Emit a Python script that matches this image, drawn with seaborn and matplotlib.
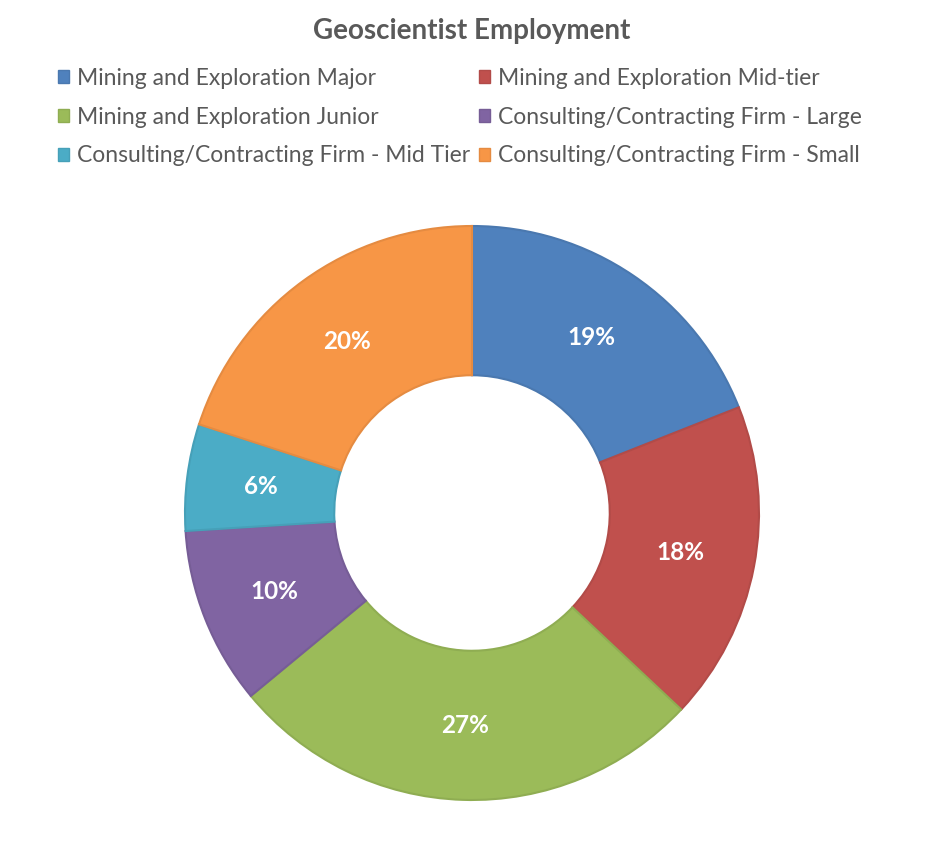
import matplotlib
matplotlib.use('Agg')
import matplotlib.pyplot as plt
import seaborn as sns
import numpy as np
from matplotlib.patches import Patch

# --- data ---
categories = ['Mining and Exploration Major', 'Mining and Exploration Mid-tier',
              'Mining and Exploration Junior', 'Consulting/Contracting Firm - Large',
              'Consulting/Contracting Firm - Mid Tier', 'Consulting/Contracting Firm - Small']
shares = [19, 18, 27, 10, 6, 20]
colors = ['#4F81BD', '#C0504D', '#9BBB59', '#8064A2', '#4BACC6', '#F79646']
edges = ['#4A78AF', '#B24B48', '#8FAD52', '#765D96', '#46A0B8', '#E58B41']

sns.set_theme(style='white')
plt.rcParams['font.family'] = ['Lato', 'DejaVu Sans']

W, H = 945, 855
fig = plt.figure(figsize=(W / 100, H / 100), dpi=100)
cx, cy, r = 472, 513, 287
ax = fig.add_axes([(cx - r) / W, (H - cy - r) / H, 2 * r / W, 2 * r / H])

wedges, _ = ax.pie(shares, colors=colors, startangle=90, counterclock=False,
                   radius=1.0, wedgeprops=dict(width=0.52, linewidth=1.5))
for w, ec in zip(wedges, edges):
    w.set_edgecolor(ec)

# percent labels in the middle of the ring
angle = 90.0
for v in shares:
    mid = angle - v / 100 * 360 / 2
    rad = np.deg2rad(mid)
    ax.text(0.74 * np.cos(rad), 0.74 * np.sin(rad), f'{v}%', ha='center', va='center',
            color='white', fontsize=17.5, fontweight='bold')
    angle -= v / 100 * 360
ax.set_xlim(-1, 1)
ax.set_ylim(-1, 1)
ax.set_aspect('equal')
ax.axis('off')

fig.text(472 / W, 1 - 31 / H, 'Geoscientist Employment', ha='center', va='center',
         fontsize=20, fontweight='bold', color='#595959')

# legend: two columns, row-major like the original
cols = [[0, 2, 4], [1, 3, 5]]
xs = [58, 479]
for col, x0 in zip(cols, xs):
    handles = [Patch(facecolor=colors[i], edgecolor=edges[i]) for i in col]
    labels = [categories[i] for i in col]
    leg = fig.legend(handles, labels, loc='upper left', bbox_to_anchor=(x0 / W, 1 - 68 / H),
                     frameon=False, fontsize=16.5, labelcolor='#595959', handlelength=0.5,
                     handleheight=0.5, handletextpad=0.35, labelspacing=0.77,
                     borderpad=0, borderaxespad=0)

fig.savefig('out.png', dpi=100, facecolor='white')
